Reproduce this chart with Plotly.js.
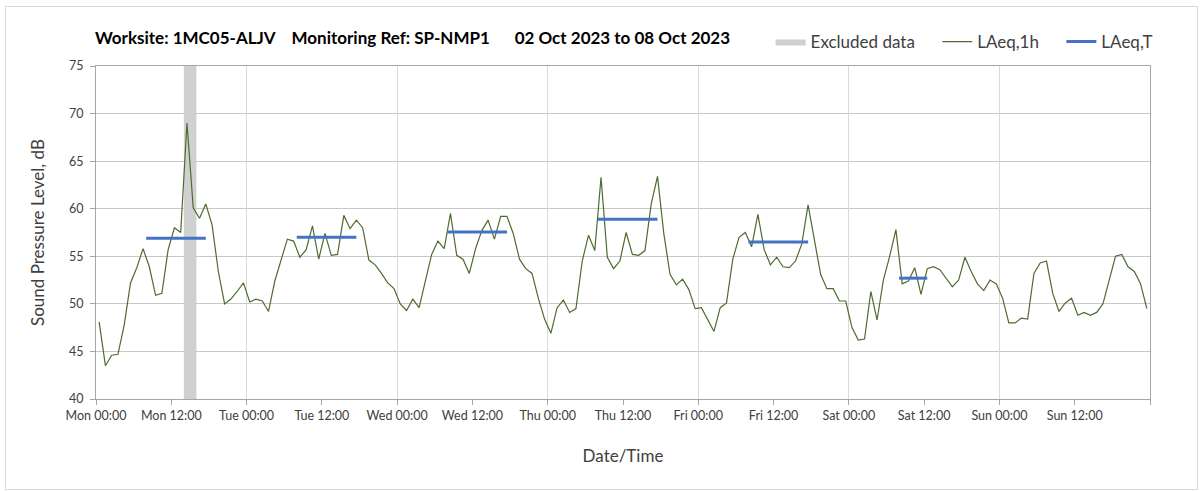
<!DOCTYPE html>
<html>
<head>
<meta charset="utf-8">
<script src="https://cdn.plot.ly/plotly-3.0.1.min.js"></script>
<style>
  html, body { margin: 0; padding: 0; background: #ffffff; }
  #wrap { position: relative; width: 1203px; height: 491px; }
  #chart { position: absolute; left: 0; top: 0; width: 1203px; height: 491px; }
  #frame { position: absolute; left: 5px; top: 6px; width: 1191px; height: 482px;
           border: 1px solid #d9d9d9; pointer-events: none; }
</style>
</head>
<body>
<div id="wrap">
  <div id="chart"></div>
  <div id="frame"></div>
</div>
<script>
// ---------------- DATA ----------------
const chartTitle = 'Worksite: 1MC05-ALJV\u00a0\u00a0\u00a0 Monitoring Ref: SP-NMP1\u00a0\u00a0\u00a0\u00a0\u00a0 02 Oct 2023 to 08 Oct 2023';
const weekStart = '2023-10-02T00:00';          // Monday 00:00
const hourlyOffsetHours = 0.5;                 // hourly points plotted at mid-hour

// LAeq,1h hourly values (dB), Mon 00:30 ... Sun 23:30
const laeq1h = [
  48.1, 43.5, 44.6, 44.7, 47.8, 52.2, 53.8, 55.8, 53.9, 50.9, 51.1, 55.7,
  58.0, 57.5, 69.0, 60.1, 59.0, 60.5, 58.3, 53.4, 50.0, 50.5, 51.3, 52.2,
  50.2, 50.5, 50.3, 49.2, 52.4, 54.5, 56.8, 56.6, 54.9, 55.7, 58.2, 54.7,
  57.4, 55.1, 55.2, 59.3, 57.9, 58.8, 58.0, 54.6, 54.1, 53.2, 52.2, 51.6,
  50.0, 49.3, 50.5, 49.6, 52.4, 55.2, 56.6, 55.8, 59.5, 55.1, 54.7, 53.2,
  55.8, 57.7, 58.8, 56.8, 59.2, 59.2, 57.4, 54.7, 53.7, 53.2, 50.6, 48.4,
  46.9, 49.6, 50.4, 49.1, 49.5, 54.5, 57.2, 55.6, 63.3, 54.9, 53.7, 54.5,
  57.5, 55.2, 55.1, 55.6, 60.5, 63.4, 57.4, 53.1, 52.0, 52.6, 51.5, 49.5,
  49.6, 48.3, 47.1, 49.6, 50.1, 54.7, 57.0, 57.5, 56.0, 59.4, 55.7, 54.1,
  54.9, 53.9, 53.8, 54.5, 56.3, 60.4, 56.7, 53.1, 51.6, 51.6, 50.3, 50.3,
  47.5, 46.2, 46.3, 51.3, 48.3, 52.5, 55.0, 57.8, 52.1, 52.4, 53.8, 51.0,
  53.7, 53.9, 53.6, 52.7, 51.8, 52.5, 54.9, 53.4, 52.1, 51.4, 52.5, 52.1,
  50.6, 48.0, 48.0, 48.5, 48.4, 53.2, 54.3, 54.5, 51.1, 49.2, 50.1, 50.6,
  48.8, 49.1, 48.8, 49.1, 50.0, 52.5, 55.0, 55.2, 53.9, 53.4, 52.1, 49.5
];

// LAeq,T periods
const periodStart = ['2023-10-02T08:00', '2023-10-03T08:00', '2023-10-04T08:00',
                     '2023-10-05T08:00', '2023-10-06T08:00', '2023-10-07T08:00'];
const periodEnd   = ['2023-10-02T17:30', '2023-10-03T17:30', '2023-10-04T17:30',
                     '2023-10-05T17:30', '2023-10-06T17:30', '2023-10-07T12:30'];
const periodValue = [56.9, 57.0, 57.55, 58.9, 56.5, 52.7];

// Excluded data windows
const excludedStart = ['2023-10-02T14:00'];
const excludedEnd   = ['2023-10-02T16:00'];

// Axis
const yRange = [40, 75];
const xRangeStart = '2023-10-02T00:00';
const xRangeEnd   = '2023-10-09T00:00';
const tickLabels = ['Mon 00:00', 'Mon 12:00', 'Tue 00:00', 'Tue 12:00', 'Wed 00:00', 'Wed 12:00',
                    'Thu 00:00', 'Thu 12:00', 'Fri 00:00', 'Fri 12:00', 'Sat 00:00', 'Sat 12:00',
                    'Sun 00:00', 'Sun 12:00', ''];

// ---------------- HELPERS ----------------
function pad(n) { return (n < 10 ? '0' : '') + n; }
function fmt(ms) {
  const d = new Date(ms);
  return d.getUTCFullYear() + '-' + pad(d.getUTCMonth() + 1) + '-' + pad(d.getUTCDate()) +
         'T' + pad(d.getUTCHours()) + ':' + pad(d.getUTCMinutes());
}
function parse(s) { return Date.parse(s + ':00Z'); }
const H = 3600000;
const t0 = parse(weekStart);

const hourlyX = laeq1h.map((_, i) => fmt(t0 + (i + hourlyOffsetHours) * H));
const tickVals = tickLabels.map((_, k) => fmt(t0 + k * 12 * H));
const dayVals = [];
for (let k = 0; k <= 7; k++) dayVals.push(fmt(t0 + k * 24 * H));

const exX = [], exY = [];
excludedStart.forEach((s, i) => {
  exX.push(s, excludedEnd[i], excludedEnd[i], s, s, null);
  exY.push(yRange[0], yRange[0], yRange[1], yRange[1], yRange[0], null);
});

const tX = [], tY = [];
periodStart.forEach((s, i) => {
  tX.push(s, periodEnd[i], null);
  tY.push(periodValue[i], periodValue[i], null);
});

// ---------------- PLOT ----------------
const font = 'Lato, "Open Sans", "DejaVu Sans", sans-serif';
const traces = [
  { x: exX, y: exY, type: 'scatter', mode: 'lines', fill: 'toself',
    fillcolor: '#d0d0d0', line: { width: 0, color: '#d0d0d0' },
    name: 'Excluded data\u00a0\u00a0\u00a0\u00a0', hoverinfo: 'skip' },
  { x: hourlyX, y: laeq1h, type: 'scatter', mode: 'lines',
    line: { color: '#4f6b2f', width: 1.2 }, name: 'LAeq,1h\u00a0\u00a0\u00a0\u00a0' },
  { x: tX, y: tY, type: 'scatter', mode: 'lines',
    line: { color: '#4472c4', width: 3 }, name: 'LAeq,T', connectgaps: false },
  { x: [], y: [], xaxis: 'x2', type: 'scatter', showlegend: false, hoverinfo: 'skip' }
];

const layout = {
  width: 1203, height: 491,
  margin: { l: 96, r: 53, t: 66, b: 92 },
  paper_bgcolor: '#ffffff', plot_bgcolor: '#ffffff',
  font: { family: font, color: '#404040' },
  title: { text: chartTitle, font: { family: font, size: 17, color: '#000000', weight: 'bold' },
           x: 95 / 1203, xanchor: 'left', xref: 'container',
           y: 1 - 38 / 491, yanchor: 'middle', yref: 'container' },
  showlegend: true,
  legend: { orientation: 'h', x: 0.64, xanchor: 'left', y: 1.072, yanchor: 'middle',
            font: { family: font, size: 17, color: '#404040' }, bgcolor: 'rgba(0,0,0,0)' },
  xaxis: {
    type: 'date', range: [xRangeStart, xRangeEnd],
    tickmode: 'array', tickvals: tickVals, ticktext: tickLabels,
    ticks: 'outside', ticklen: 5, tickcolor: '#a6a6a6',
    showline: true, linecolor: '#a6a6a6', linewidth: 1, mirror: true,
    showgrid: false, zeroline: false,
    tickfont: { family: font, size: 12.5, color: '#404040' },
    title: { text: 'Date/Time', font: { family: font, size: 17, color: '#404040' }, standoff: 28 },
    automargin: false
  },
  xaxis2: {
    type: 'date', range: [xRangeStart, xRangeEnd], overlaying: 'x', anchor: 'y', side: 'bottom',
    tickmode: 'array', tickvals: dayVals, showticklabels: false, ticks: '',
    showline: false, showgrid: true, gridcolor: '#d9d9d9', gridwidth: 1, zeroline: false
  },
  yaxis: {
    range: yRange, tickmode: 'linear', tick0: 40, dtick: 5,
    ticks: 'outside', ticklen: 5, tickcolor: '#a6a6a6',
    showline: true, linecolor: '#a6a6a6', linewidth: 1, mirror: true,
    showgrid: true, gridcolor: '#c8c8c8', gridwidth: 1, zeroline: false,
    ticklabelstandoff: 4,
    tickfont: { family: font, size: 12.5, color: '#404040' },
    title: { text: 'Sound Pressure Level, dB', font: { family: font, size: 17, color: '#404040' }, standoff: 20 },
    automargin: false
  }
};

Plotly.newPlot('chart', traces, layout, { displayModeBar: false, staticPlot: true });
</script>
</body>
</html>
